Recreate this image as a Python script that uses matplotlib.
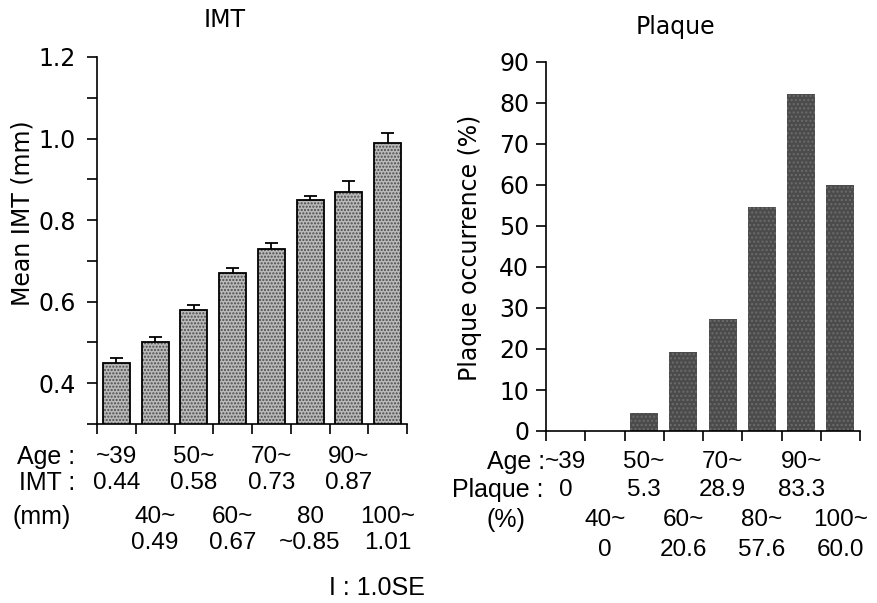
"""IMT and plaque occurrence by age group: two bar panels with a value table below."""

import matplotlib

matplotlib.use("Agg")
import matplotlib.pyplot as plt
import matplotlib.transforms as mtransforms
import numpy as np

# --- data ---------------------------------------------------------------
age_groups = ["~39", "40~", "50~", "60~", "70~", "80~", "90~", "100~"]
imt_mean = [0.45, 0.50, 0.58, 0.67, 0.73, 0.85, 0.87, 0.99]
imt_se = [0.013, 0.013, 0.012, 0.012, 0.013, 0.010, 0.027, 0.023]
plaque_pct = [0.0, 0.0, 4.3, 19.2, 27.2, 54.6, 82.1, 60.0]

# table printed under the panels
imt_age_labels = ["~39", "40~", "50~", "60~", "70~", "80", "90~", "100~"]
imt_value_labels = ["0.44", "0.49", "0.58", "0.67", "0.73", "~0.85", "0.87", "1.01"]
plaque_age_labels = ["~39", "40~", "50~", "60~", "70~", "80~", "90~", "100~"]
plaque_value_labels = ["0", "0", "5.3", "20.6", "28.9", "57.6", "83.3", "60.0"]

imt_ticks = [0.4, 0.6, 0.8, 1.0, 1.2]
plaque_ticks = [0, 10, 20, 30, 40, 50, 60, 70, 80, 90]

W, H = 877, 603
TABLE_FONT = ["Liberation Sans", "DejaVu Sans"]
plt.rcParams["font.family"] = ["DejaVu Sans"]


def px(xp, yp):
    """Pixel position (from top-left) -> figure fraction."""
    return xp / W, 1 - yp / H


def style_axes(ax, pad):
    for side in ("top", "right"):
        ax.spines[side].set_visible(False)
    for side in ("left", "bottom"):
        ax.spines[side].set_linewidth(1.2)
    ax.tick_params(axis="y", which="both", direction="out", length=7, width=1.2,
                   labelsize=17, pad=pad)
    ax.tick_params(axis="x", direction="out", length=7, width=1.2, labelbottom=False)
    n = len(age_groups)
    ax.set_xlim(-0.5, n - 0.5)
    ax.set_xticks(np.arange(-0.5, n, 1.0))


def table_rows(ax, ages, values, rows_y):
    """Staggered age / value labels: even groups on top rows, odd below."""
    trans = mtransforms.blended_transform_factory(ax.transData, fig.transFigure)
    for i, (a, v) in enumerate(zip(ages, values)):
        y_age, y_val = rows_y[:2] if i % 2 == 0 else rows_y[2:]
        ax.text(i, 1 - y_age / H, a, transform=trans, ha="center", va="center",
                fontsize=17.5, family=TABLE_FONT)
        ax.text(i, 1 - y_val / H, v, transform=trans, ha="center", va="center",
                fontsize=17.5, family=TABLE_FONT)


def row_head(xp, yp, s, ha="right"):
    fig.text(*px(xp, yp), s, ha=ha, va="center", fontsize=18, family=TABLE_FONT)


fig = plt.figure(figsize=(W / 100, H / 100), dpi=100)
x = np.arange(len(age_groups))

# --- left panel: mean IMT ------------------------------------------------
ax1 = fig.add_axes([97 / W, 1 - 424 / H, 310 / W, 367 / H])
ax1.bar(x, imt_mean, 0.7, color="#b9b9b9", hatch=".....", edgecolor="#4a4a4a", linewidth=0)
ax1.bar(x, imt_mean, 0.7, fill=False, edgecolor="black", linewidth=1.3)
top = np.array(imt_mean) + np.array(imt_se)
ax1.vlines(x, imt_mean, top, color="black", linewidth=1.3)
ax1.hlines(top, x - 0.17, x + 0.17, color="black", linewidth=1.3)
ax1.set_ylim(0.3, 1.2)
ax1.set_yticks(imt_ticks)
ax1.set_yticklabels([f"{t:.1f}" for t in imt_ticks])
ax1.set_yticks([0.3, 0.5, 0.7, 0.9, 1.1], minor=True)
style_axes(ax1, pad=8)

# --- right panel: plaque occurrence ---------------------------------------
ax2 = fig.add_axes([546 / W, 1 - 431 / H, 314 / W, 369 / H])
ax2.bar(x, plaque_pct, 0.71, color="#4b4b4b", hatch="....", edgecolor="#6c6c6c", linewidth=0)
ax2.set_ylim(0, 90)
ax2.set_yticks(plaque_ticks)
style_axes(ax2, pad=5)

# titles and axis labels
fig.text(*px(225, 20), "IMT", ha="center", va="center", fontsize=17)
fig.text(*px(675, 27), "Plaque", ha="center", va="center", fontsize=17)
fig.text(*px(23, 213), "Mean IMT (mm)", rotation=90, ha="center", va="center", fontsize=17)
fig.text(*px(470, 248), "Plaque occurrence (%)", rotation=90, ha="center", va="center",
         fontsize=17)

# table under the panels
row_head(75, 457, "Age :")
row_head(75, 483, "IMT :")
row_head(42, 517, "(mm)", ha="center")
table_rows(ax1, imt_age_labels, imt_value_labels, [457, 483, 517, 543])

row_head(545, 462, "Age :")
row_head(544, 490, "Plaque :")
row_head(506, 520, "(%)", ha="center")
table_rows(ax2, plaque_age_labels, plaque_value_labels, [462, 490, 520, 550])

row_head(377, 588, "I : 1.0SE", ha="center")

fig.savefig("out.png", dpi=100)
